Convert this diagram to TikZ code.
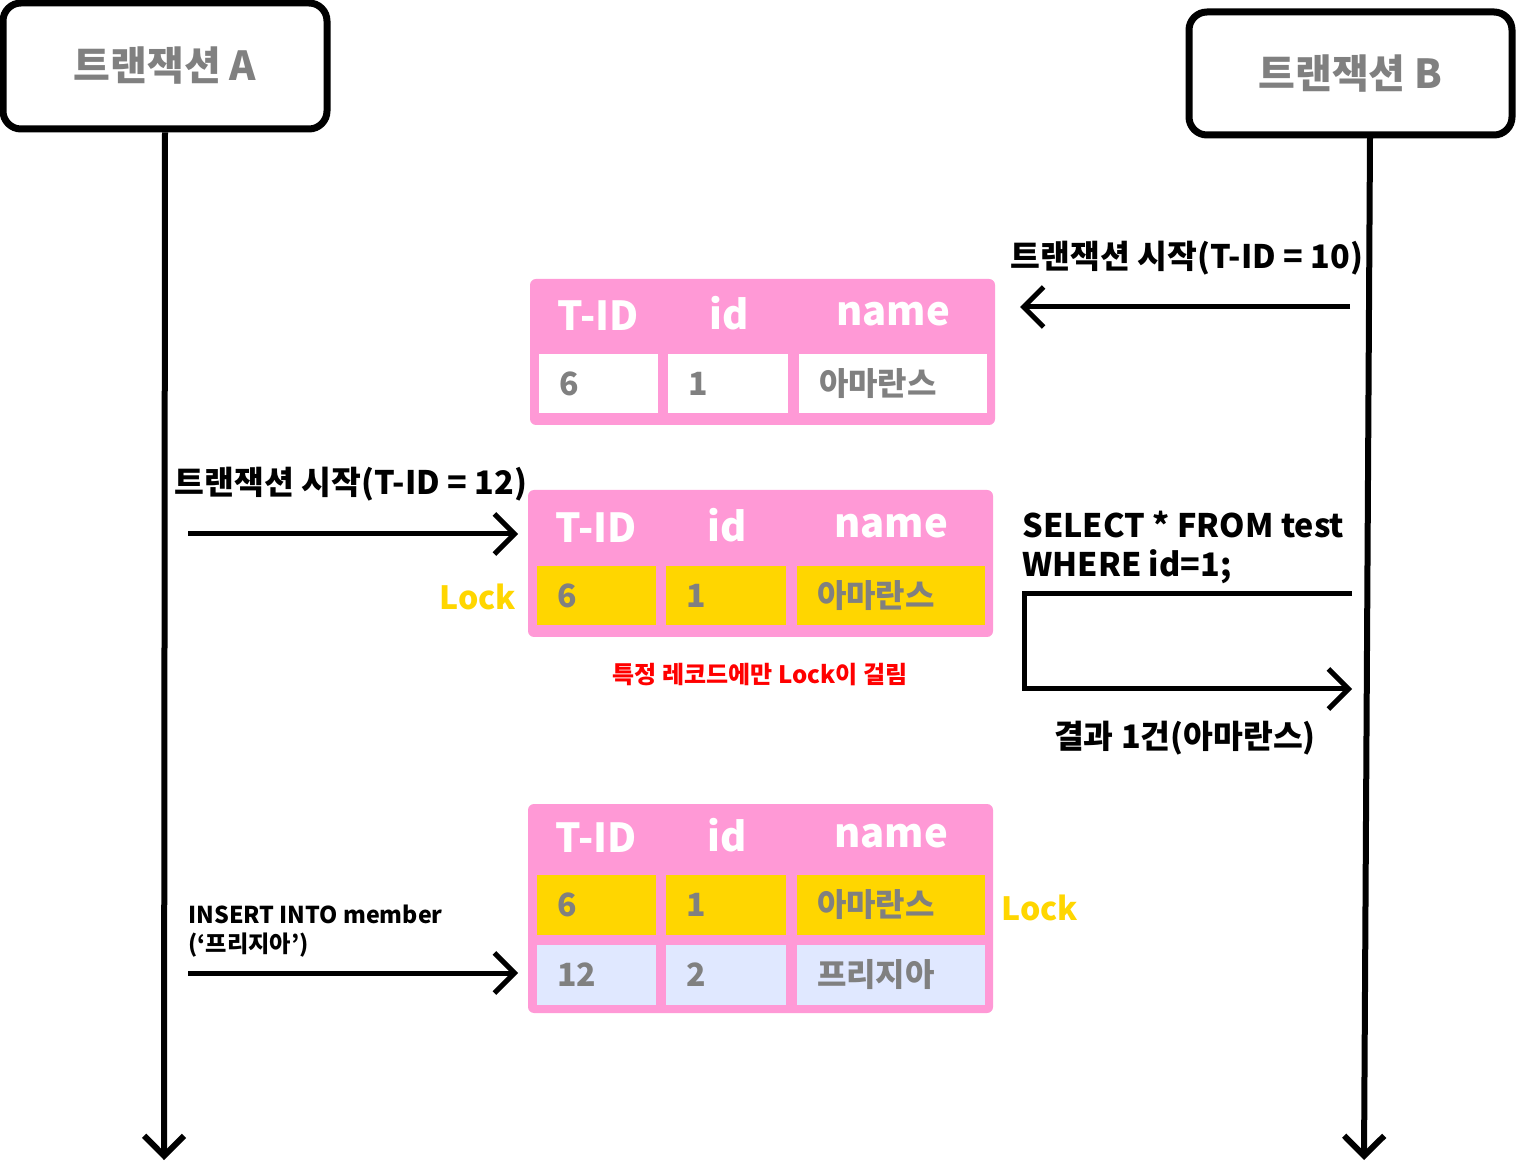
\documentclass[tikz,border=0pt]{standalone}
\usepackage{fontspec}
\setmainfont{Noto Sans CJK KR}
\usetikzlibrary{arrows.meta}
\definecolor{pinkbg}{HTML}{FF99D6}
\definecolor{lockyel}{HTML}{FFD600}
\definecolor{paleblue}{HTML}{E0E8FF}
\definecolor{graytxt}{HTML}{808080}
\definecolor{redtxt}{HTML}{FF0000}
\tikzset{
  txbox/.style={draw, line width=3.5pt, rounded corners=9pt, text=graytxt,
    font=\fontsize{20}{24}\selectfont\bfseries, inner sep=0pt},
  life/.style={line width=3pt, -{Straight Barb[length=10pt,width=20pt]}},
  arr/.style={line width=2.5pt, -{Straight Barb[length=10pt,width=20pt]}},
  tbl/.style={fill=pinkbg, rounded corners=3pt, inner sep=0pt, minimum width=232.5pt},
  hdr/.style={text=white, font=\fontsize{20}{24}\selectfont\bfseries, inner sep=0pt},
  cell/.style={fill=#1, text=graytxt, font=\fontsize{16}{20}\selectfont\bfseries,
    inner xsep=10pt, inner ysep=0pt, align=left, minimum height=29.5pt},
  c1/.style={cell=#1, text width=39.5pt},
  c2/.style={cell=#1, text width=40pt},
  c3/.style={cell=#1, text width=74pt},
  lbl/.style={text=black, font=\fontsize{16.2}{19.5}\selectfont\bfseries, inner sep=0pt},
  small/.style={text=black, font=\fontsize{11.6}{14.5}\selectfont\bfseries, inner sep=0pt, align=left},
  lock/.style={text=lockyel, font=\fontsize{16}{20}\selectfont\bfseries, inner sep=0pt},
}
\begin{document}
\begin{tikzpicture}[x=0.5pt,y=-0.5pt]
\useasboundingbox (0,0) rectangle (1516,1165);

% transaction boxes
\node[txbox, minimum width=162pt, minimum height=63pt] (boxA) at (165,66) {트랜잭션 A};
\node[txbox, minimum width=161.5pt, minimum height=61.5pt] (boxB) at (1350.5,73.5) {트랜잭션 B};

% lifelines
\coordinate (topB) at (1370,137);
\coordinate (endA) at (164,1160);
\coordinate (endB) at (1364,1160);
\draw[life] (boxA.south) -- (endA);
\draw[life] (topB) -- (endB);

% table 1
\node[tbl, minimum height=73pt] (t1) at (762.5,352) {};
\node[hdr] (t1h1) at (598,316) {T-ID};
\node[hdr] (t1h2) at (729,313) {id};
\node[hdr] (t1h3) at (893,314) {name};
\node[c1=white] (t1a) at (598.5,383.5) {6};
\node[c2=white] (t1b) at (728,383.5) {1};
\node[c3=white] (t1c) at (893,383.5) {아마란스};

% arrow B start
\coordinate (a1s) at (1350,307);
\coordinate (a1e) at (1020,307);
\draw[arr] (a1s) -- (a1e);
\node[lbl] (l1) at (1187,258) {트랜잭션 시작(T-ID = 10)};

% table 2
\node[tbl, minimum height=73.5pt] (t2) at (760.5,563.5) {};
\node[hdr] (t2h1) at (596,528) {T-ID};
\node[hdr] (t2h2) at (727,525) {id};
\node[hdr] (t2h3) at (891,526) {name};
\node[c1=lockyel] (t2a) at (596.5,595.5) {6};
\node[c2=lockyel] (t2b) at (726,595.5) {1};
\node[c3=lockyel] (t2c) at (891,595.5) {아마란스};
\node[lock] (lk1) at (478,597) {Lock};
\node[text=redtxt, font=\fontsize{12}{15}\selectfont\bfseries, inner sep=0pt] (red) at (760,675) {특정 레코드에만 Lock이 걸림};

% arrow A start
\coordinate (a2s) at (188,534);
\coordinate (a2e) at (518,534);
\draw[arr] (a2s) -- (a2e);
\node[lbl] (l2) at (351,484) {트랜잭션 시작(T-ID = 12)};

% select
\node[lbl, anchor=west, align=left] (sel) at (1022,547) {SELECT * FROM test\\WHERE id=1;};
\coordinate (s1) at (1352,594);
\coordinate (s2) at (1024,594);
\coordinate (s3) at (1024,689);
\coordinate (s4) at (1352,689);
\draw[arr] (s1) -- (s2) -- (s3) -- (s4);
\node[lbl] (res) at (1185,738) {결과 1건(아마란스)};

% table 3
\node[tbl, minimum height=104.5pt] (t3) at (760.5,908.5) {};
\node[hdr] (t3h1) at (596,838) {T-ID};
\node[hdr] (t3h2) at (727,835) {id};
\node[hdr] (t3h3) at (891,836) {name};
\node[c1=lockyel, minimum height=30pt] (t3a) at (596.5,905) {6};
\node[c2=lockyel, minimum height=30pt] (t3b) at (726,905) {1};
\node[c3=lockyel, minimum height=30pt] (t3c) at (891,905) {아마란스};
\node[c1=paleblue, minimum height=30pt] (t3d) at (596.5,975) {12};
\node[c2=paleblue, minimum height=30pt] (t3e) at (726,975) {2};
\node[c3=paleblue, minimum height=30pt] (t3f) at (891,975) {프리지아};
\node[lock] (lk2) at (1040,908) {Lock};

% insert
\node[small, anchor=west] (ins) at (188,931) {INSERT INTO member\\(‘프리지아’)};
\coordinate (a3s) at (188,973);
\coordinate (a3e) at (518,973);
\draw[arr] (a3s) -- (a3e);
\end{tikzpicture}
\end{document}
